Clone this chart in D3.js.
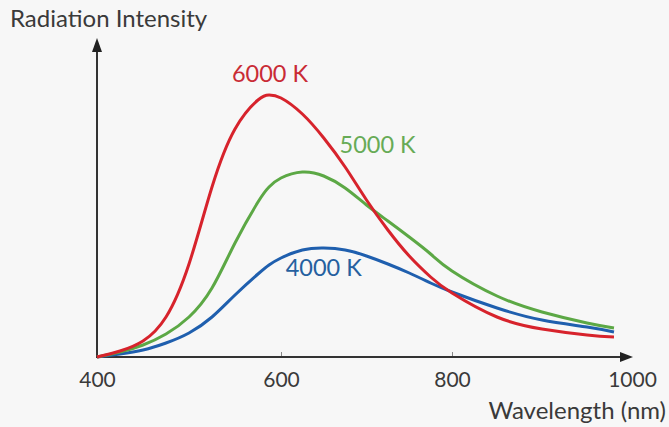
<!DOCTYPE html>
<style>
body { margin: 0; background: #f7f7f7; }
text { font-family: Lato, "Open Sans", sans-serif; }
</style>
<body>
<svg width="669" height="427"></svg>
<script src="https://d3js.org/d3.v7.min.js"></script>
<script>

// wavelengths (nm) and relative intensity
var wavelengths = [400, 425, 450, 475, 500, 525, 550, 575, 587, 600, 625, 650, 675, 700, 725, 750, 775, 800, 850, 900, 950, 980];
var k6000 = [0, 6, 16, 40, 93, 170, 228, 257, 262, 259, 243, 219, 190, 157, 127, 101, 80, 64, 40, 28, 22, 20];
var k5000 = [0, 5, 12, 23, 40, 69, 114, 155, 170, 179, 185, 181, 169, 152, 136, 120, 103, 86, 61, 45, 34, 29];
var k4000 = [0, 3, 7, 14, 24, 40, 62, 83, 92, 99, 107, 109, 107, 101, 93, 84, 74, 65, 49, 37, 30, 25];
var xTicks = [400, 600, 800, 1000];

var series = [
  {name: "6000 K", values: k6000, color: "#d7232c", text: "#c92b35", lx: 588, ly: 275},
  {name: "5000 K", values: k5000, color: "#5ca845", text: "#67ab56", lx: 713, ly: 204},
  {name: "4000 K", values: k4000, color: "#1f5fae", text: "#25609f", lx: 650, ly: 81}
];

var svg = d3.select("svg");

var x = d3.scaleLinear()
    .domain(xTicks)
    .range([97, 281, 452, 632]);

var y = d3.scaleLinear()
    .domain([0, 320])
    .range([357, 37]);

// x axis ticks and labels
var xAxis = svg.append("g")
    .attr("transform", "translate(0," + y(0) + ")")
    .call(d3.axisBottom(x).tickValues(xTicks).tickSizeInner(-5).tickSizeOuter(0).tickPadding(15).tickFormat(d3.format("d")));
xAxis.select(".domain").remove();
xAxis.selectAll(".tick line")
    .attr("stroke", "#888")
    .attr("stroke-width", 1)
    .attr("display", function(d) { return (d == 400 || d == 1000) ? "none" : null; });
xAxis.selectAll(".tick text")
    .attr("font-size", 21)
    .attr("fill", "#3a3a3a")
    .attr("font-family", "Lato, sans-serif");

// axis lines with arrows
svg.append("line")
    .attr("x1", x(400)).attr("y1", y(0))
    .attr("x2", 622).attr("y2", y(0))
    .attr("stroke", "#333").attr("stroke-width", 2);
svg.append("path")
    .attr("d", "M620," + (y(0) - 5) + "L633," + y(0) + "L620," + (y(0) + 5) + "Z")
    .attr("fill", "#222");

svg.append("line")
    .attr("x1", x(400)).attr("y1", y(0) + 1)
    .attr("x2", x(400)).attr("y2", 50)
    .attr("stroke", "#333").attr("stroke-width", 2);
svg.append("path")
    .attr("d", "M" + (x(400) - 5) + ",52L" + x(400) + ",38L" + (x(400) + 5) + ",52Z")
    .attr("fill", "#222");

// curves
var line = d3.line()
    .x(function(d, i) { return x(wavelengths[i]); })
    .y(function(d) { return y(d); })
    .curve(d3.curveNatural);

svg.selectAll(".curve")
    .data(series.slice().reverse())
    .enter().append("path")
    .attr("class", "curve")
    .attr("d", function(d) { return line(d.values); })
    .attr("fill", "none")
    .attr("stroke", function(d) { return d.color; })
    .attr("stroke-width", 3);

svg.selectAll(".lbl")
    .data(series)
    .enter().append("text")
    .attr("class", "lbl")
    .attr("x", function(d) { return x(d.lx); })
    .attr("y", function(d) { return y(d.ly); })
    .attr("text-anchor", "middle")
    .attr("font-size", 23.5)
    .attr("fill", function(d) { return d.text; })
    .text(function(d) { return d.name; });

// axis titles
svg.append("text")
    .attr("x", 10).attr("y", 27)
    .attr("font-size", 24)
    .attr("fill", "#3a3a3a")
    .text("Radiation Intensity");

svg.append("text")
    .attr("x", 666).attr("y", 419)
    .attr("text-anchor", "end")
    .attr("font-size", 24)
    .attr("fill", "#3a3a3a")
    .text("Wavelength (nm)");

</script>
</body>
